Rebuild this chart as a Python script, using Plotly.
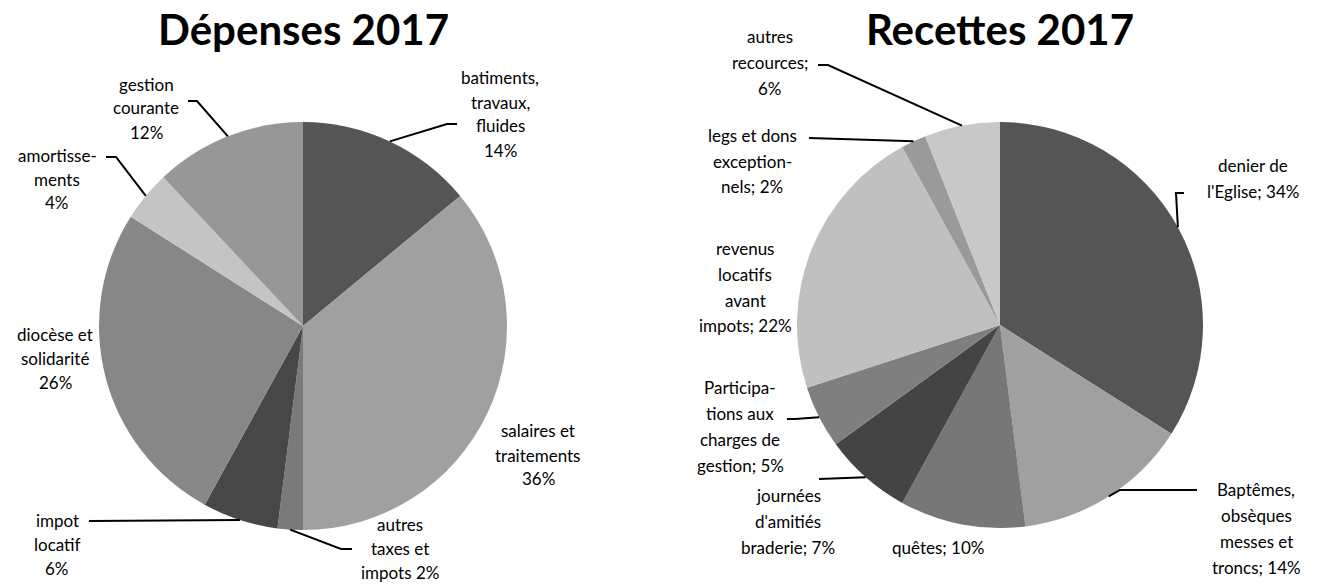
import math
import plotly.graph_objects as go

W, H = 1318, 586

# ---- data ----
dep_labels = ["batiments,<br>travaux,<br>fluides", "salaires et<br>traitements", "autres<br>taxes et<br>impots",
              "impot<br>locatif", "diocèse et<br>solidarité", "amortisse-<br>ments", "gestion<br>courante"]
dep_values = [14, 36, 2, 6, 26, 4, 12]
dep_colors = ["#555555", "#a0a0a0", "#7a7a7a", "#474747", "#878787", "#c4c4c4", "#979797"]

rec_labels = ["denier de<br>l'Eglise", "Baptêmes,<br>obsèques<br>messes et<br>troncs", "quêtes",
              "journées<br>d'amitiés<br>braderie", "Participa-<br>tions aux<br>charges de<br>gestion",
              "revenus<br>locatifs<br>avant<br>impots", "legs et dons<br>exception-<br>nels", "autres<br>recources;"]
rec_values = [34, 14, 10, 7, 5, 22, 2, 6]
rec_colors = ["#555555", "#a0a0a0", "#777777", "#444444", "#7f7f7f", "#c0c0c0", "#9a9a9a", "#c8c8c8"]

# ---- layout constants (pixels) ----
dep_c, dep_r = (303, 326), 204
rec_c, rec_r = (1000, 325), 203
FONT = "Lato"

def domain(c, r):
    return dict(x=[(c[0] - r) / W, (c[0] + r) / W], y=[1 - (c[1] + r) / H, 1 - (c[1] - r) / H])

def mid_point(values, i, c, r):
    tot = sum(values)
    f = (sum(values[:i]) + values[i] / 2) / tot
    th = 2 * math.pi * f
    return (c[0] + r * math.sin(th), c[1] - r * math.cos(th))

def px(p):
    return (p[0] / W, 1 - p[1] / H)

fig = go.Figure()
for vals, labs, cols, c, r in [(dep_values, dep_labels, dep_colors, dep_c, dep_r),
                               (rec_values, rec_labels, rec_colors, rec_c, rec_r)]:
    fig.add_trace(go.Pie(values=vals, labels=labs, marker=dict(colors=cols, line=dict(width=0)),
                         sort=False, direction="clockwise", rotation=0, textinfo="none",
                         hoverinfo="label+percent", domain=domain(c, r), showlegend=False))

annotations = []
shapes = []

def fmt(v, vals):
    return f"{round(100 * v / sum(vals))}%"

# label text positions (pixels, block centre) and leader paths (start, elbow)
dep_text = [
    ("{}<br>{}", (500, 114), [(457, 124), (447, 124)]),
    ("{}<br>{}", (538, 455), None),
    ("{} {}", (400, 548), [(352, 549), (341, 549)]),
    ("{}<br>{}", (57, 544), [(89, 521)]),
    ("{}<br>{}", (55, 358), None),
    ("{}<br>{}", (57, 179), [(106, 157), (116, 157)]),
    ("{}<br>{}", (146, 108), [(188, 101), (197, 101)]),
]
rec_text = [
    ("{}; {}", (1253, 178), [(1184, 193), (1176, 193)]),
    ("{}; {}", (1256, 528), [(1197, 490), (1120, 490)]),
    ("{}; {}", (938, 547), None),
    ("{}; {}", (788, 521), [(819, 479)]),
    ("{}; {}", (740, 426), [(787, 419), (795, 419)]),
    ("{}; {}", (745, 287), None),
    ("{}; {}", (752, 161), [(809, 138)]),
    ("{}<br>{}", (770, 62), [(818, 65), (828, 65)]),
]

for vals, labs, specs, c, r, lh in [(dep_values, dep_labels, dep_text, dep_c, dep_r, 24),
                                    (rec_values, rec_labels, rec_text, rec_c, rec_r, 26)]:
    for i, (tpl, pos, leader) in enumerate(specs):
        lines = tpl.format(labs[i], fmt(vals[i], vals)).split("<br>")
        n = len(lines)
        for k, line in enumerate(lines):
            y0 = pos[1] + (k - (n - 1) / 2) * lh
            x, y = px((pos[0], y0))
            annotations.append(dict(text=line, x=x, y=y, xref="paper", yref="paper", showarrow=False,
                                    xanchor="center", yanchor="middle", align="center",
                                    font=dict(family=FONT, size=17, color="black")))
        if leader:
            pts = leader + [mid_point(vals, i, c, r)]
            path = "M " + " L ".join(f"{px(p)[0]},{px(p)[1]}" for p in pts)
            shapes.append(dict(type="path", path=path, xref="paper", yref="paper",
                               line=dict(color="black", width=2)))

for title, cx in [("Dépenses 2017", dep_c[0]), ("Recettes 2017", rec_c[0])]:
    annotations.append(dict(text=f"<b>{title}</b>", x=cx / W, y=1 - 29 / H, xref="paper", yref="paper",
                            showarrow=False, xanchor="center", yanchor="middle",
                            font=dict(family=FONT, size=42, color="black")))

fig.update_layout(width=W, height=H, margin=dict(l=0, r=0, t=0, b=0),
                  paper_bgcolor="white", plot_bgcolor="white",
                  annotations=annotations, shapes=shapes)

fig.write_html("out.html", config={"displayModeBar": False},
               post_script="document.body.style.margin='0';")
